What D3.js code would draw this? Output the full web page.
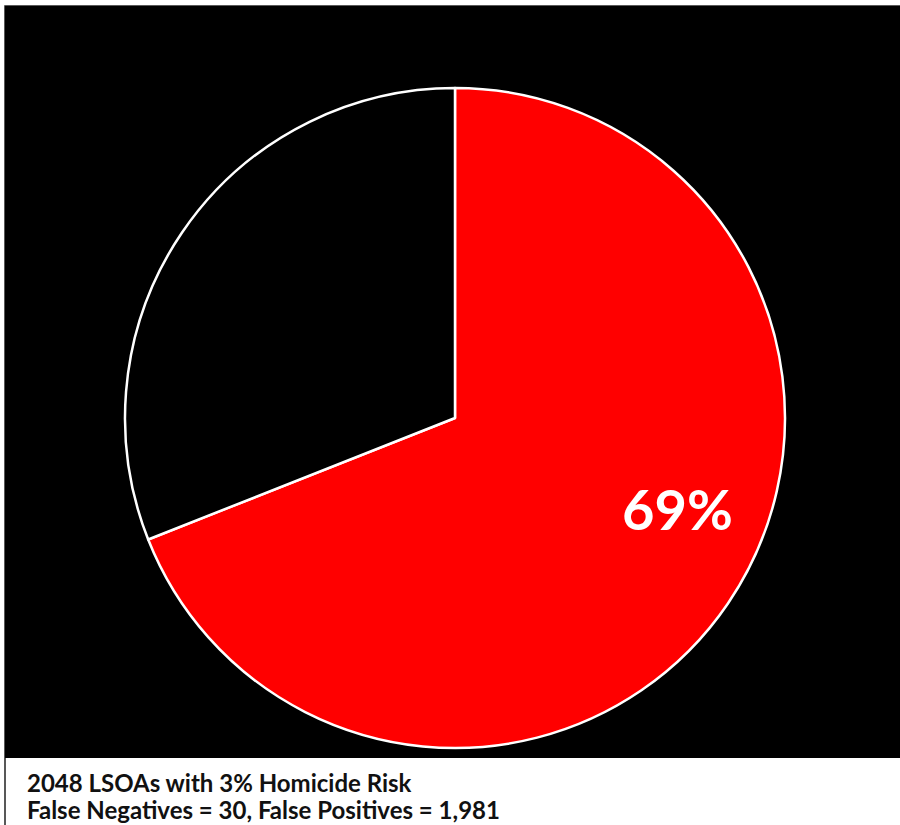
<!DOCTYPE html>
<html>
<head>
<meta charset="utf-8">
<script src="https://cdn.jsdelivr.net/npm/d3@7/dist/d3.min.js"></script>
<style>
  html, body { margin: 0; padding: 0; background: #ffffff; }
  svg { display: block; }
</style>
</head>
<body>
<script>
// Share of LSOAs flagged vs. not flagged
const categories = ["Flagged", "Other"];
const shares = [69, 31];
const sliceColors = ["#ff0000", "#000000"];
const sliceLabels = ["69%", ""];
const captionLines = [
  "2048 LSOAs with 3% Homicide Risk",
  "False Negatives = 30, False Positives = 1,981"
];

const W = 900, H = 825;
const svg = d3.select("body").append("svg")
  .attr("width", W).attr("height", H);

// frame: black plot panel over a white caption strip
svg.append("rect")
  .attr("x", 5).attr("y", 6).attr("width", 900).attr("height", 830)
  .attr("fill", "#ffffff").attr("stroke", "#222").attr("stroke-width", 1.5);
svg.append("rect")
  .attr("x", 5).attr("y", 6).attr("width", 900).attr("height", 752)
  .attr("fill", "#000000");

const cx = 455, cy = 418, radius = 330;

const pie = d3.pie().sort(null).value(d => d.value);
const arc = d3.arc().innerRadius(0).outerRadius(radius);

const data = categories.map((c, i) => ({ name: c, value: shares[i], color: sliceColors[i], label: sliceLabels[i] }));
const arcs = pie(data);

const g = svg.append("g").attr("transform", `translate(${cx},${cy})`);

g.selectAll("path.slice")
  .data(arcs)
  .join("path")
  .attr("class", "slice")
  .attr("d", arc)
  .attr("fill", d => d.data.color)
  .attr("stroke", "#ffffff")
  .attr("stroke-width", 2.5)
  .attr("stroke-linejoin", "round");

// percentage label sits a bit before the slice's mid-angle, ~73% out
g.selectAll("text.pct")
  .data(arcs.filter(d => d.data.label))
  .join("text")
  .attr("class", "pct")
  .attr("transform", d => {
    const a = d.startAngle + (d.endAngle - d.startAngle) * 0.453;
    const [x, y] = d3.pointRadial(a, radius * 0.73);
    return `translate(${x},${y})`;
  })
  .attr("text-anchor", "middle")
  .attr("dy", "0.36em")
  .attr("fill", "#ffffff")
  .attr("font-family", "Lato, 'Open Sans', sans-serif")
  .attr("font-weight", "bold")
  .attr("font-size", 56)
  .text(d => d.data.label);

svg.selectAll("text.caption")
  .data(captionLines)
  .join("text")
  .attr("class", "caption")
  .attr("x", 27)
  .attr("y", (d, i) => 792 + i * 27)
  .attr("fill", "#111")
  .attr("font-family", "Lato, 'Open Sans', sans-serif")
  .attr("font-weight", "bold")
  .attr("font-size", 24)
  .text(d => d);
</script>
</body>
</html>
